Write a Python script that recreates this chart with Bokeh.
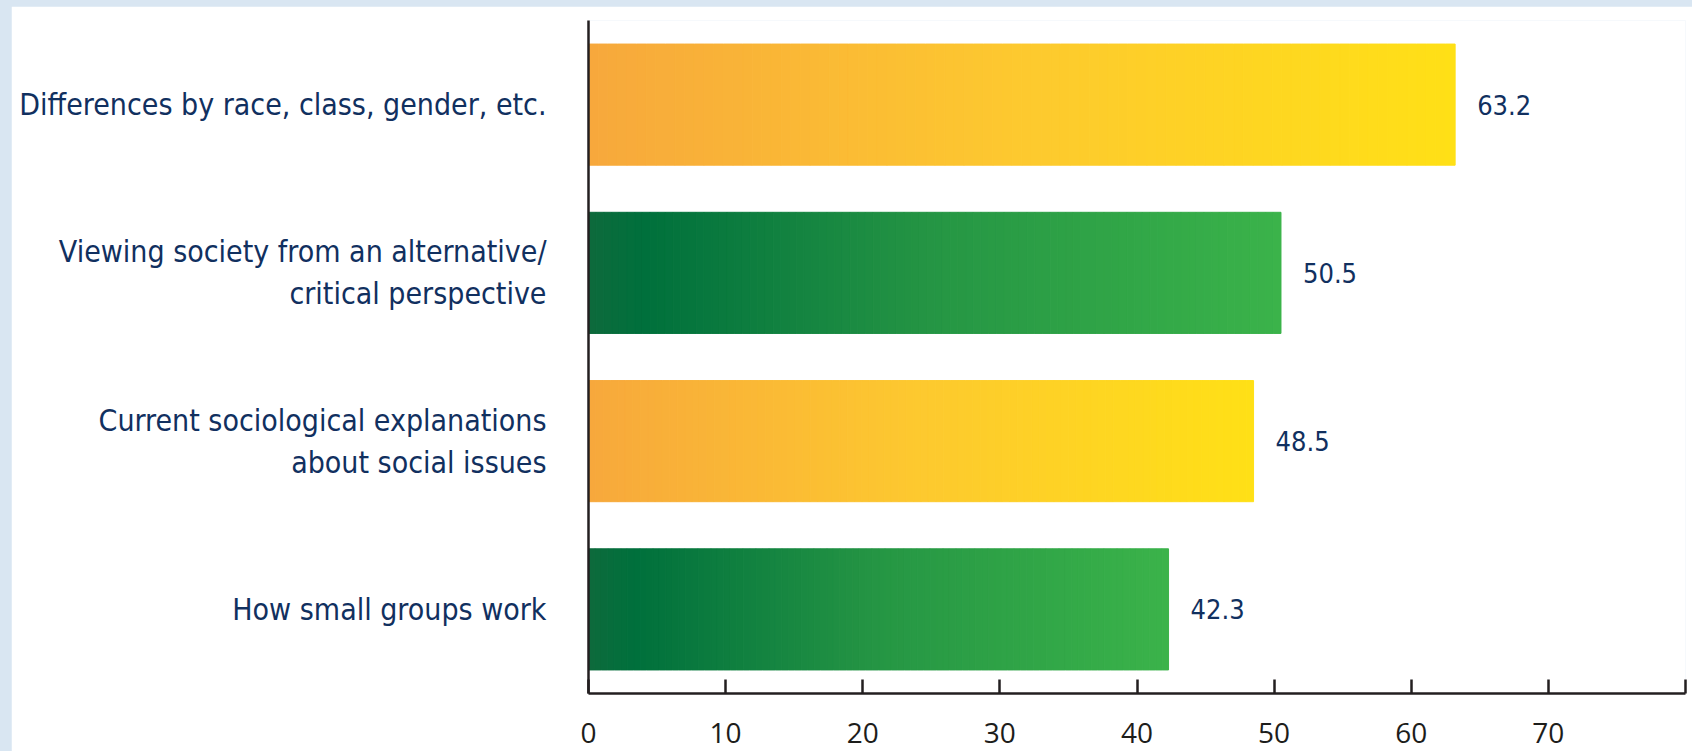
from bokeh.plotting import figure
from bokeh.models import FactorRange, Range1d, FixedTicker, ColumnDataSource
from bokeh.layouts import column
from bokeh.embed import file_html
from bokeh.resources import INLINE
from bokeh.core.properties import value

# ---- data ----
categories = [
    "Differences by race, class, gender, etc.",
    "Viewing society from an alternative/\ncritical perspective",
    "Current sociological explanations\nabout social issues",
    "How small groups work",
]
values = [63.2, 50.5, 48.5, 42.3]
bar_schemes = ["orange", "green", "orange", "green"]
x_ticks = [0, 10, 20, 30, 40, 50, 60, 70, 80]
x_tick_labels = ["0", "10", "20", "30", "40", "50", "60", "70", ""]

# ---- styles ----
gradients = {
    "orange": [(0.0, "#f7a83c"), (0.5, "#fdc92f"), (1.0, "#ffe016")],
    "green": [(0.0, "#0e6a3c"), (0.08, "#00703c"), (0.5, "#259644"), (1.0, "#3bb34a")],
}
LABEL_FONT = "'DejaVu Sans Condensed', 'Liberation Sans Narrow', sans-serif"
TICK_FONT = "Open Sans"
NAVY = "#11305f"
AXIS = "#231f20"


def hex2rgb(h):
    h = h.lstrip("#")
    return tuple(int(h[i:i + 2], 16) for i in (0, 2, 4))


def grad_color(stops, t):
    for (t0, c0), (t1, c1) in zip(stops[:-1], stops[1:]):
        if t <= t1:
            f = 0 if t1 == t0 else (t - t0) / (t1 - t0)
            a, b = hex2rgb(c0), hex2rgb(c1)
            r = [round(a[i] + (b[i] - a[i]) * f) for i in range(3)]
            return "#%02x%02x%02x" % tuple(r)
    return stops[-1][1]


N = 90
seg = dict(y=[], left=[], right=[], color=[])
for cat, v, sch in zip(categories, values, bar_schemes):
    for i in range(N):
        seg["y"].append(cat)
        seg["left"].append(v * i / N)
        seg["right"].append(v * (i + 1) / N)
        seg["color"].append(grad_color(gradients[sch], (i + 0.5) / N))

p = figure(
    width=1681, height=745,
    y_range=FactorRange(factors=list(reversed(categories)), range_padding=0),
    x_range=Range1d(0, 80),
    output_backend="svg", toolbar_location=None,
    min_border_left=577, min_border_right=7, min_border_top=14, min_border_bottom=58,
)
p.background_fill_color = "white"
p.border_fill_color = "white"
p.outline_line_color = None
p.grid.visible = False

p.hbar(y="y", left="left", right="right", height=0.72, fill_color="color",
       line_color="color", line_width=1, source=ColumnDataSource(seg))

p.text(x=values, y=categories, text=["%.1f" % v for v in values],
       x_offset=22, text_baseline="middle", text_align="left",
       text_font=value(LABEL_FONT), text_font_size="27px", text_color=NAVY)

xa = p.xaxis[0]
xa.ticker = FixedTicker(ticks=x_ticks)
xa.major_label_overrides = {t: l for t, l in zip(x_ticks, x_tick_labels)}
xa.axis_line_width = 2.5
xa.axis_line_color = AXIS
xa.major_tick_line_width = 2.5
xa.major_tick_line_color = AXIS
xa.major_tick_in = 14
xa.major_tick_out = 0
xa.minor_tick_line_color = None
xa.major_label_standoff = 29
xa.major_label_text_font = TICK_FONT
xa.major_label_text_font_size = "28px"
xa.major_label_text_color = "#1d1d1b"

ya = p.yaxis[0]
ya.axis_line_width = 2.5
ya.axis_line_color = AXIS
ya.major_tick_line_color = None
ya.minor_tick_line_color = None
ya.major_label_standoff = 36
ya.major_label_text_font = LABEL_FONT
ya.major_label_text_font_size = "30px"
ya.major_label_text_color = NAVY

layout = column(p, styles={"background-color": "#d9e6f2", "padding": "6px 0 0 11px"})

open("out.html", "w").write(file_html(layout, INLINE))
